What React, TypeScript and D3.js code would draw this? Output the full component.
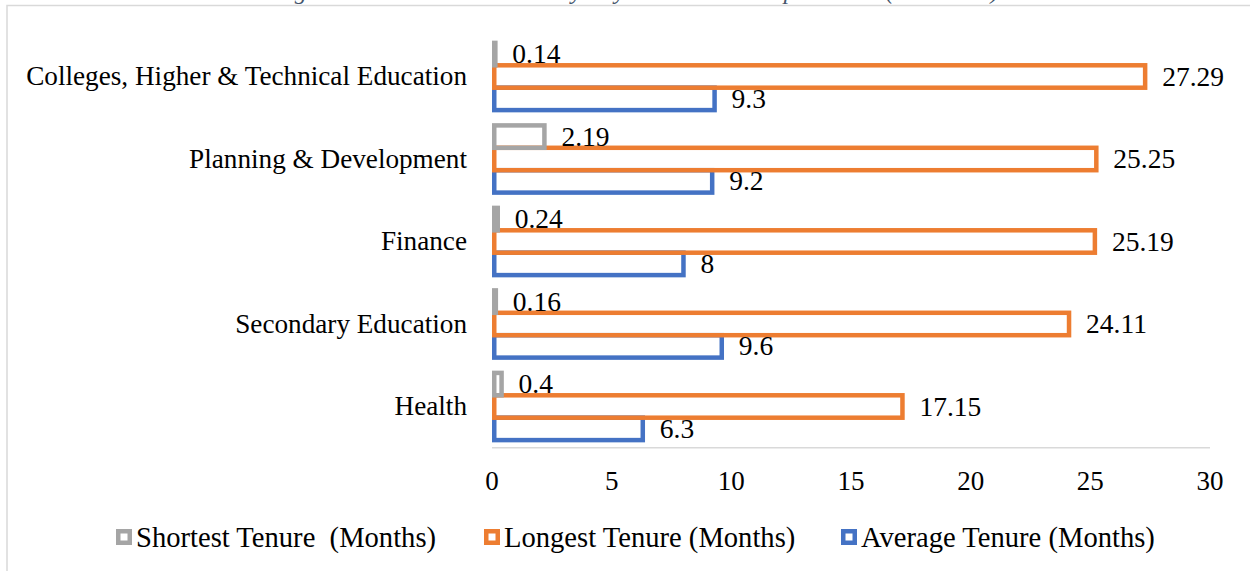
import React from "react";
import * as d3 from "d3";

const categories = [
  "Colleges, Higher & Technical Education",
  "Planning & Development",
  "Finance",
  "Secondary Education",
  "Health",
];
const seriesNames = [
  "Shortest Tenure  (Months)",
  "Longest Tenure (Months)",
  "Average Tenure (Months)",
];
const shortest = [0.14, 2.19, 0.24, 0.16, 0.4];
const longest = [27.29, 25.25, 25.19, 24.11, 17.15];
const average = [9.3, 9.2, 8, 9.6, 6.3];
const xTicks = [0, 5, 10, 15, 20, 25, 30];
const colors = ["#a5a5a5", "#ed7d31", "#4472c4"];
const titleText = "Figure 4: Secretaries’ Tenure by Key Government Departments (in Months)";

const W = 1250;
const H = 571;
const FONT = "'Liberation Serif', 'Times New Roman', serif";

export default function App() {
  const x = d3.scaleLinear().domain([0, 30]).range([492, 1210]);
  const y = d3.scaleBand<string>().domain(categories).range([35.25, 447.75]).padding(0);
  const sub = d3.scaleBand<number>().domain([0, 1, 2]).range([-33.6, 33.6]).padding(0);
  const values = [shortest, longest, average];
  const sw = 4.5;
  const drawOrder = [2, 1, 0];

  const legendX = [116, 484, 841];

  return (
    <svg
      width={W}
      height={H}
      style={{ position: "absolute", left: 0, top: 0, background: "#fff" }}
      fontFamily={FONT}
    >
      <text
        x={636}
        y={-1}
        textAnchor="middle"
        fontStyle="italic"
        fontSize={24}
        fill="#44546a"
      >
        {titleText}
      </text>
      <rect x={7} y={5.5} width={W + 10} height={H + 10} fill="none" stroke="#d9d9d9" strokeWidth={1.5} />

      {/* axis baseline */}
      <line x1={x(0)} x2={x(30)} y1={447.75} y2={447.75} stroke="#d9d9d9" strokeWidth={1.5} />

      {/* bars */}
      {drawOrder.map((s) => (
        <g key={s}>
          {categories.map((c, i) => {
            const cy = (y(c) as number) + y.bandwidth() / 2 + (sub(s) as number);
            const v = values[s][i];
            return (
              <rect
                key={c}
                x={x(0) + sw / 2}
                y={cy}
                width={Math.max(0, x(v) - x(0) - sw / 2)}
                height={sub.bandwidth()}
                fill="none"
                stroke={colors[s]}
                strokeWidth={sw}
              />
            );
          })}
        </g>
      ))}

      {/* value labels */}
      {[0, 1, 2].map((s) =>
        categories.map((c, i) => {
          const cy = (y(c) as number) + y.bandwidth() / 2 + (sub(s) as number) + sub.bandwidth() / 2;
          const v = values[s][i];
          return (
            <text key={s + c} x={x(v) + 17} y={cy + 9} fontSize={27.5} fill="#000">
              {String(v)}
            </text>
          );
        })
      )}

      {/* category labels */}
      {categories.map((c) => (
        <text
          key={c}
          x={467}
          y={(y(c) as number) + y.bandwidth() / 2 + 8.5}
          textAnchor="end"
          fontSize={27.2}
          fill="#000"
        >
          {c}
        </text>
      ))}

      {/* x tick labels */}
      {xTicks.map((t) => (
        <text key={t} x={x(t)} y={490} textAnchor="middle" fontSize={27} fill="#000">
          {t}
        </text>
      ))}

      {/* legend */}
      {seriesNames.map((n, i) => (
        <g key={n}>
          <rect
            x={legendX[i] + sw / 2}
            y={529 + sw / 2}
            width={16 - sw}
            height={16 - sw}
            fill="#fff"
            stroke={colors[i]}
            strokeWidth={sw}
          />
          <text
            x={legendX[i] + 20}
            y={546.5}
            fontSize={28.6}
            fill="#000"
            style={{ whiteSpace: "pre" }}
          >
            {n}
          </text>
        </g>
      ))}
    </svg>
  );
}
